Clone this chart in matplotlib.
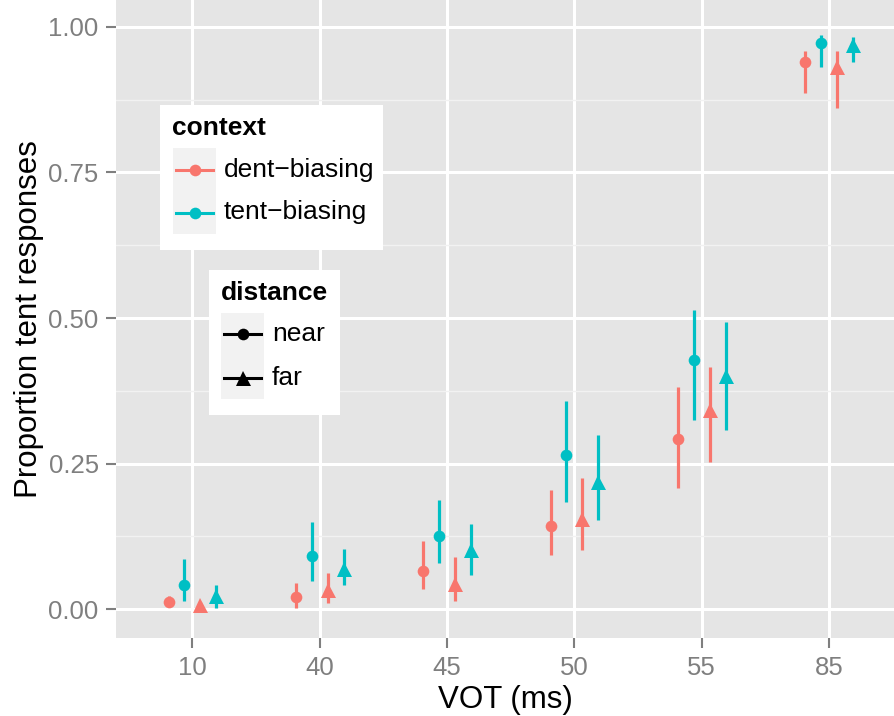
import numpy as np
import matplotlib
matplotlib.use("Agg")
import matplotlib.pyplot as plt
from matplotlib.patches import Rectangle
from matplotlib.lines import Line2D

plt.rcParams['font.family'] = ['Liberation Sans', 'DejaVu Sans']

vot = ['10', '40', '45', '50', '55', '85']
contexts = ['dent-biasing', 'tent-biasing']
distances = ['near', 'far']
colors = {'dent-biasing': '#F8766D', 'tent-biasing': '#00BFC4'}
shapes = {'near': 'o', 'far': '^'}

# mean, lower, upper per VOT
dent_near = [0.013, 0.021, 0.065, 0.143, 0.292, 0.939]
dent_near_lo = [0.005, 0.003, 0.035, 0.094, 0.208, 0.887]
dent_near_hi = [0.022, 0.045, 0.117, 0.205, 0.382, 0.959]

tent_near = [0.042, 0.091, 0.126, 0.265, 0.428, 0.972]
tent_near_lo = [0.014, 0.049, 0.080, 0.184, 0.325, 0.931]
tent_near_hi = [0.086, 0.149, 0.188, 0.358, 0.514, 0.985]

dent_far = [0.007, 0.033, 0.043, 0.155, 0.342, 0.931]
dent_far_lo = [0.001, 0.010, 0.014, 0.101, 0.252, 0.861]
dent_far_hi = [0.012, 0.062, 0.089, 0.225, 0.416, 0.959]

tent_far = [0.022, 0.070, 0.102, 0.219, 0.400, 0.969]
tent_far_lo = [0.003, 0.042, 0.059, 0.153, 0.308, 0.939]
tent_far_hi = [0.041, 0.103, 0.146, 0.299, 0.493, 0.982]

series = [
    ('dent-biasing', 'near', dent_near, dent_near_lo, dent_near_hi),
    ('tent-biasing', 'near', tent_near, tent_near_lo, tent_near_hi),
    ('dent-biasing', 'far', dent_far, dent_far_lo, dent_far_hi),
    ('tent-biasing', 'far', tent_far, tent_far_lo, tent_far_hi),
]

W, H = 894, 716
fig = plt.figure(figsize=(W / 100, H / 100), dpi=100)
ax = fig.add_axes([116 / W, (H - 638.3) / H, 1 - 116 / W, 638.3 / H])
ax.set_facecolor('#E5E5E5')

x = np.arange(len(vot))
offsets = [-0.1875, -0.0625, 0.0625, 0.1875]
for (ctx, dist, m, lo, hi), off in zip(series, offsets):
    xs = x + off
    ax.vlines(xs, lo, hi, color=colors[ctx], lw=2.3, zorder=3)
    ms = 8.4 if dist == 'near' else 10.8
    ax.plot(xs, m, linestyle='none', marker=shapes[dist], ms=ms,
            color=colors[ctx], markeredgewidth=0, zorder=4)

ax.set_xlim(-0.6, 5.51)
ax.set_ylim(-0.0498, 1.0459)
ax.set_xticks(x)
ax.set_xticklabels(vot)
ax.set_yticks([0, 0.25, 0.5, 0.75, 1.0])
ax.set_yticklabels(['0.00', '0.25', '0.50', '0.75', '1.00'])
ax.set_yticks([0.125, 0.375, 0.625, 0.875], minor=True)
ax.grid(which='major', color='white', lw=2.2)
ax.grid(which='minor', axis='y', color='#F2F2F2', lw=1.0)
ax.set_axisbelow(True)
for s in ax.spines.values():
    s.set_visible(False)
ax.tick_params(which='major', length=7, width=1.5, color='#7F7F7F',
               labelcolor='#7F7F7F', labelsize=18.5, pad=5.5)
ax.tick_params(which='minor', length=0)
ax.set_xlabel('VOT (ms)', fontsize=22.5, labelpad=4)
ax.set_ylabel('Proportion tent responses', fontsize=22.5, labelpad=3)


# legends drawn in pixel coordinates
def px(xp, yp):
    return xp / W, 1 - yp / H


def draw_legend(left, top, right, bottom, title, labels, key_x, label_x,
                key_tops, key_h, kinds):
    fig.patches.append(Rectangle(px(left, bottom), (right - left) / W,
                                 (bottom - top) / H, transform=fig.transFigure,
                                 facecolor='white', edgecolor='none', zorder=5))
    tx, ty = px(left + 12, top + 23)
    fig.text(tx, ty, title, fontsize=19, fontweight='bold', va='center',
             ha='left', zorder=6)
    for lab, kt, kind in zip(labels, key_tops, kinds):
        fig.patches.append(Rectangle(px(key_x, kt + key_h), key_h / W, key_h / H,
                                     transform=fig.transFigure, facecolor='#F2F2F2',
                                     edgecolor='none', zorder=6))
        cy = kt + key_h / 2
        x0, y0 = px(key_x + 3, cy)
        x1, _ = px(key_x + key_h - 3, cy)
        col, mk, ms = kind
        fig.lines.append(Line2D([x0, x1], [y0, y0], transform=fig.transFigure,
                                color=col, lw=2.2, zorder=7))
        fig.lines.append(Line2D([(x0 + x1) / 2], [y0], transform=fig.transFigure,
                                color=col, marker=mk, ms=ms, markeredgewidth=0,
                                linestyle='none', zorder=8))
        lx, ly = px(label_x, cy)
        fig.text(lx, ly, lab.replace('-', '\u2212'), fontsize=19, va='center',
                 ha='left', zorder=7)


draw_legend(160, 105, 383, 250, 'context', contexts, 173, 224,
            [148.3, 191], 43, [(colors[c], 'o', 8.4) for c in contexts])
draw_legend(209, 270, 340, 415, 'distance', distances, 221, 272,
            [313, 356.5], 43, [('black', shapes[d], 8.4 if d == 'near' else 10.8)
                                for d in distances])

fig.savefig('out.png', dpi=100)
